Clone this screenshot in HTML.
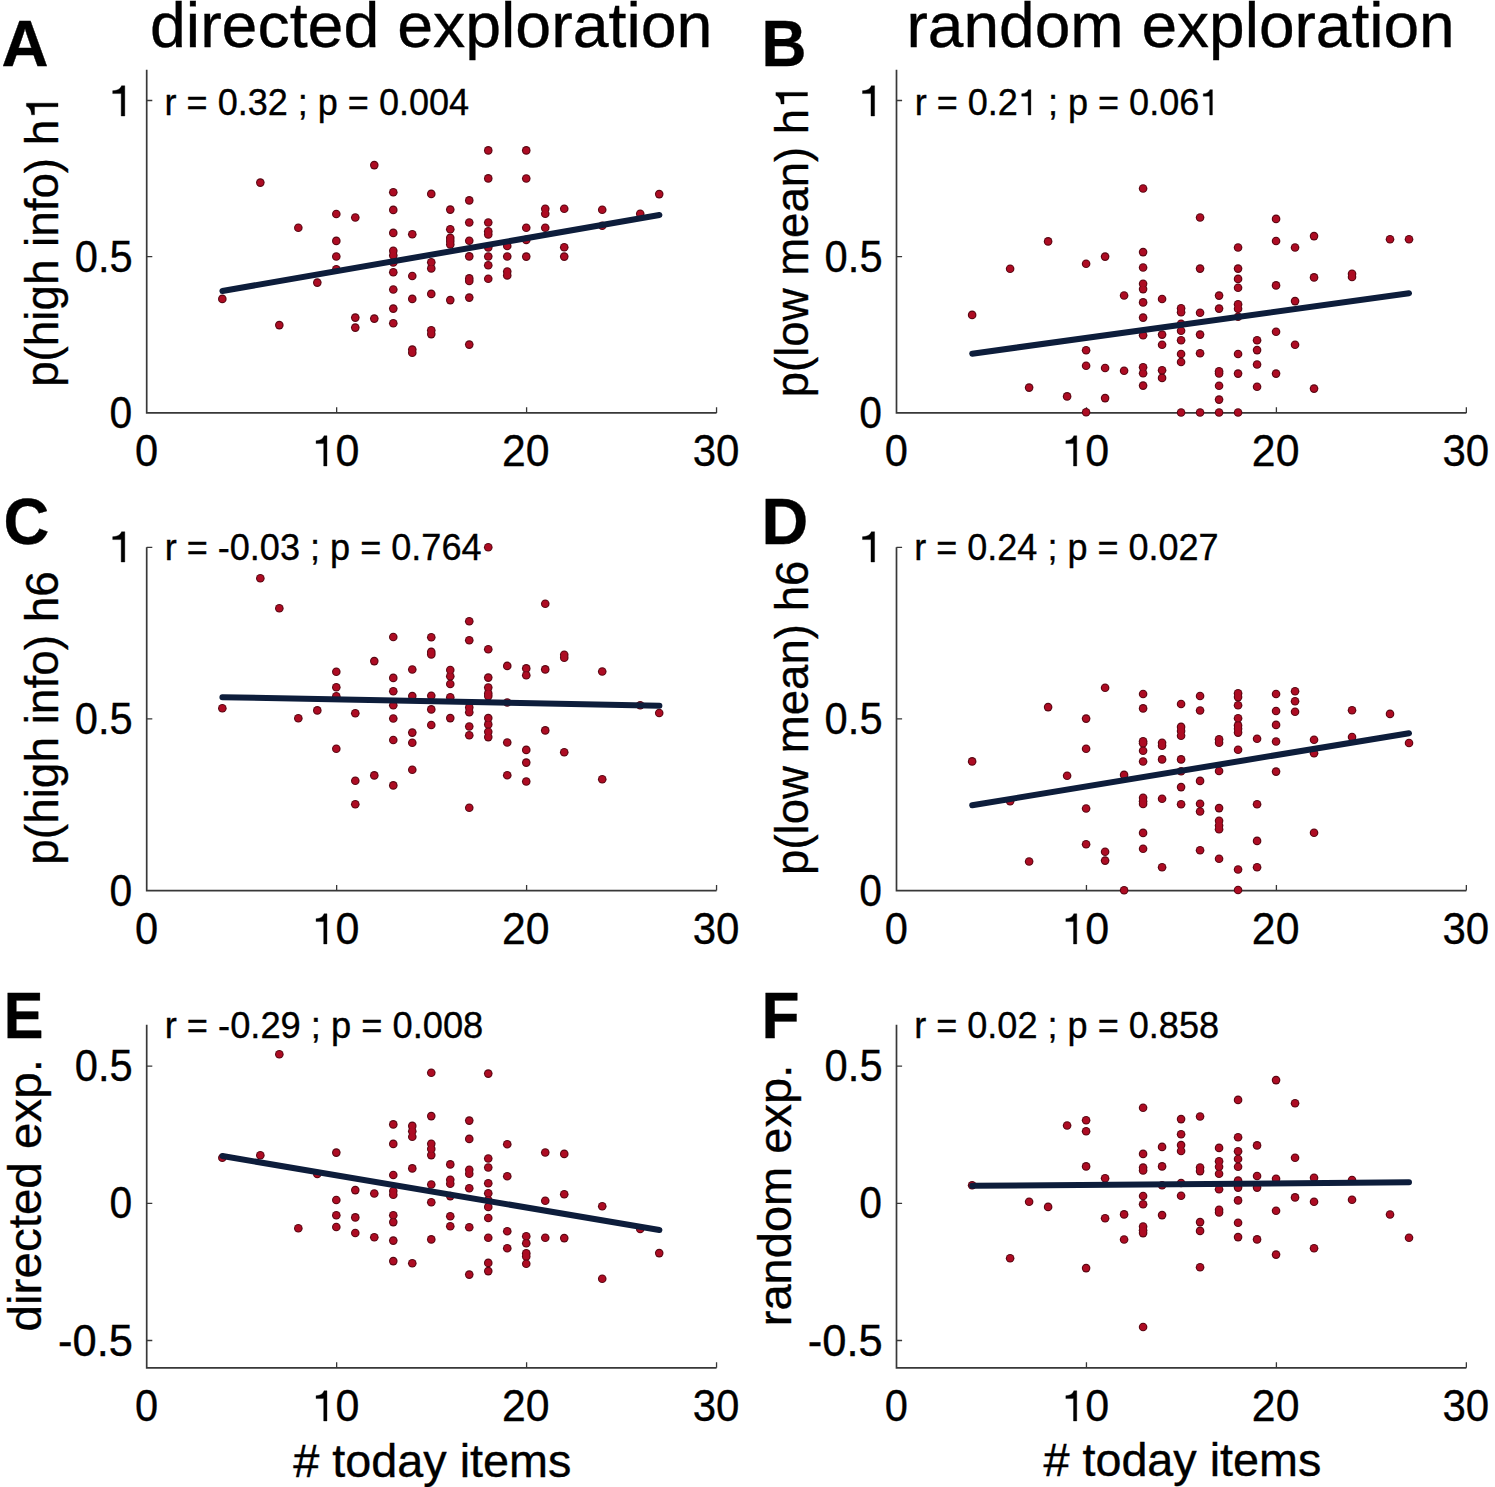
<!DOCTYPE html>
<html><head><meta charset="utf-8"><title>Exploration vs today items</title>
<style>html,body{margin:0;padding:0;background:#fff;}body{width:1495px;height:1487px;overflow:hidden;font-family:"Liberation Sans",sans-serif;}svg{display:block;}</style>
</head><body>
<svg width="1495" height="1487" viewBox="0 0 1495 1487"><rect width="1495" height="1487" fill="#fff"/><g fill="none" stroke="#383838" stroke-width="1.7" stroke-linejoin="miter"><path d="M146.7 69.7V412.9H716.55"/><path d="M146.7 547.3V890.6H716.55"/><path d="M146.7 1024.85V1367.8H716.55"/><path d="M896.5 69.7V412.9H1466.35"/><path d="M896.5 547.3V890.6H1466.35"/><path d="M896.5 1024.85V1367.8H1466.35"/></g><path d="M336.65 412.9v-5.6M526.6 412.9v-5.6M716.55 412.9v-5.6M146.7 256.7h5.6M146.7 100.5h5.6M336.65 890.6v-5.6M526.6 890.6v-5.6M716.55 890.6v-5.6M146.7 718.95h5.6M146.7 547.3h5.6M336.65 1367.8v-5.6M526.6 1367.8v-5.6M716.55 1367.8v-5.6M146.7 1340.5h5.6M146.7 1203.3h5.6M146.7 1066.1h5.6M1086.45 412.9v-5.6M1276.4 412.9v-5.6M1466.35 412.9v-5.6M896.5 256.7h5.6M896.5 100.5h5.6M1086.45 890.6v-5.6M1276.4 890.6v-5.6M1466.35 890.6v-5.6M896.5 718.95h5.6M896.5 547.3h5.6M1086.45 1367.8v-5.6M1276.4 1367.8v-5.6M1466.35 1367.8v-5.6M896.5 1340.5h5.6M896.5 1203.3h5.6M896.5 1066.1h5.6" fill="none" stroke="#383838" stroke-width="1.3"/><g fill="#5a0713"><circle cx="222.33" cy="298.9" r="4.3"/><circle cx="260.32" cy="182.6" r="4.3"/><circle cx="279.31" cy="325.1" r="4.3"/><circle cx="298.31" cy="227.7" r="4.3"/><circle cx="317.3" cy="282.6" r="4.3"/><circle cx="336.3" cy="214" r="4.3"/><circle cx="336.3" cy="240.9" r="4.3"/><circle cx="336.3" cy="256.5" r="4.3"/><circle cx="336.3" cy="269.2" r="4.3"/><circle cx="355.29" cy="217.5" r="4.3"/><circle cx="355.29" cy="317.6" r="4.3"/><circle cx="355.29" cy="327.6" r="4.3"/><circle cx="374.29" cy="165.1" r="4.3"/><circle cx="374.29" cy="318.6" r="4.3"/><circle cx="393.28" cy="192.3" r="4.3"/><circle cx="393.28" cy="209.9" r="4.3"/><circle cx="393.28" cy="232.9" r="4.3"/><circle cx="393.28" cy="250.8" r="4.3"/><circle cx="393.28" cy="255.4" r="4.3"/><circle cx="393.28" cy="262.5" r="4.3"/><circle cx="393.28" cy="272.2" r="4.3"/><circle cx="393.28" cy="289.5" r="4.3"/><circle cx="393.28" cy="308.6" r="4.3"/><circle cx="393.28" cy="323.3" r="4.3"/><circle cx="412.28" cy="234.2" r="4.3"/><circle cx="412.28" cy="276" r="4.3"/><circle cx="412.28" cy="298.9" r="4.3"/><circle cx="412.28" cy="349.6" r="4.3"/><circle cx="412.28" cy="352.7" r="4.3"/><circle cx="431.27" cy="193.9" r="4.3"/><circle cx="431.27" cy="262.3" r="4.3"/><circle cx="431.27" cy="268.4" r="4.3"/><circle cx="431.27" cy="293.9" r="4.3"/><circle cx="431.27" cy="330.2" r="4.3"/><circle cx="431.27" cy="334.1" r="4.3"/><circle cx="450.27" cy="209.6" r="4.3"/><circle cx="450.27" cy="229.3" r="4.3"/><circle cx="450.27" cy="237.9" r="4.3"/><circle cx="450.27" cy="241" r="4.3"/><circle cx="450.27" cy="244.4" r="4.3"/><circle cx="450.27" cy="300.1" r="4.3"/><circle cx="469.26" cy="200.4" r="4.3"/><circle cx="469.26" cy="222.5" r="4.3"/><circle cx="469.26" cy="240.7" r="4.3"/><circle cx="469.26" cy="256.4" r="4.3"/><circle cx="469.26" cy="278.4" r="4.3"/><circle cx="469.26" cy="281" r="4.3"/><circle cx="469.26" cy="297.6" r="4.3"/><circle cx="469.26" cy="344.6" r="4.3"/><circle cx="488.26" cy="150.4" r="4.3"/><circle cx="488.26" cy="178.4" r="4.3"/><circle cx="488.26" cy="222.5" r="4.3"/><circle cx="488.26" cy="231.3" r="4.3"/><circle cx="488.26" cy="234.4" r="4.3"/><circle cx="488.26" cy="247.5" r="4.3"/><circle cx="488.26" cy="256.5" r="4.3"/><circle cx="488.26" cy="265.3" r="4.3"/><circle cx="488.26" cy="278.8" r="4.3"/><circle cx="507.25" cy="246" r="4.3"/><circle cx="507.25" cy="256.5" r="4.3"/><circle cx="507.25" cy="271.5" r="4.3"/><circle cx="507.25" cy="275.4" r="4.3"/><circle cx="526.25" cy="150.4" r="4.3"/><circle cx="526.25" cy="178.5" r="4.3"/><circle cx="526.25" cy="227.7" r="4.3"/><circle cx="526.25" cy="239.9" r="4.3"/><circle cx="526.25" cy="256.6" r="4.3"/><circle cx="545.25" cy="208.7" r="4.3"/><circle cx="545.25" cy="213.8" r="4.3"/><circle cx="545.25" cy="227.7" r="4.3"/><circle cx="564.24" cy="208.7" r="4.3"/><circle cx="564.24" cy="247.3" r="4.3"/><circle cx="564.24" cy="256.6" r="4.3"/><circle cx="602.23" cy="209.8" r="4.3"/><circle cx="602.23" cy="225.7" r="4.3"/><circle cx="640.22" cy="213.8" r="4.3"/><circle cx="659.22" cy="194.1" r="4.3"/><circle cx="972.13" cy="314.9" r="4.3"/><circle cx="1010.12" cy="268.7" r="4.3"/><circle cx="1029.12" cy="387.6" r="4.3"/><circle cx="1048.11" cy="241.4" r="4.3"/><circle cx="1067.11" cy="396.4" r="4.3"/><circle cx="1086.1" cy="263.8" r="4.3"/><circle cx="1086.1" cy="350.2" r="4.3"/><circle cx="1086.1" cy="365.8" r="4.3"/><circle cx="1086.1" cy="412.3" r="4.3"/><circle cx="1105.1" cy="256.6" r="4.3"/><circle cx="1105.1" cy="368" r="4.3"/><circle cx="1105.1" cy="398.1" r="4.3"/><circle cx="1124.09" cy="295.5" r="4.3"/><circle cx="1124.09" cy="370.8" r="4.3"/><circle cx="1143.09" cy="188.5" r="4.3"/><circle cx="1143.09" cy="252.1" r="4.3"/><circle cx="1143.09" cy="267.5" r="4.3"/><circle cx="1143.09" cy="283.8" r="4.3"/><circle cx="1143.09" cy="289.1" r="4.3"/><circle cx="1143.09" cy="302.4" r="4.3"/><circle cx="1143.09" cy="317.6" r="4.3"/><circle cx="1143.09" cy="335.3" r="4.3"/><circle cx="1143.09" cy="367.3" r="4.3"/><circle cx="1143.09" cy="373.3" r="4.3"/><circle cx="1143.09" cy="385.6" r="4.3"/><circle cx="1162.08" cy="299" r="4.3"/><circle cx="1162.08" cy="334.6" r="4.3"/><circle cx="1162.08" cy="344.7" r="4.3"/><circle cx="1162.08" cy="370.2" r="4.3"/><circle cx="1162.08" cy="377.9" r="4.3"/><circle cx="1181.08" cy="308.3" r="4.3"/><circle cx="1181.08" cy="312.2" r="4.3"/><circle cx="1181.08" cy="323.8" r="4.3"/><circle cx="1181.08" cy="330.8" r="4.3"/><circle cx="1181.08" cy="340.3" r="4.3"/><circle cx="1181.08" cy="354" r="4.3"/><circle cx="1181.08" cy="362" r="4.3"/><circle cx="1181.08" cy="412.5" r="4.3"/><circle cx="1200.07" cy="217.5" r="4.3"/><circle cx="1200.07" cy="268.6" r="4.3"/><circle cx="1200.07" cy="312.7" r="4.3"/><circle cx="1200.07" cy="334.6" r="4.3"/><circle cx="1200.07" cy="353.2" r="4.3"/><circle cx="1200.07" cy="412.5" r="4.3"/><circle cx="1219.07" cy="295.6" r="4.3"/><circle cx="1219.07" cy="308.6" r="4.3"/><circle cx="1219.07" cy="371.3" r="4.3"/><circle cx="1219.07" cy="373.5" r="4.3"/><circle cx="1219.07" cy="385.7" r="4.3"/><circle cx="1219.07" cy="399.6" r="4.3"/><circle cx="1219.07" cy="412.5" r="4.3"/><circle cx="1238.06" cy="247.5" r="4.3"/><circle cx="1238.06" cy="268.6" r="4.3"/><circle cx="1238.06" cy="278.9" r="4.3"/><circle cx="1238.06" cy="287.8" r="4.3"/><circle cx="1238.06" cy="304.2" r="4.3"/><circle cx="1238.06" cy="308.8" r="4.3"/><circle cx="1238.06" cy="316.8" r="4.3"/><circle cx="1238.06" cy="354" r="4.3"/><circle cx="1238.06" cy="373.6" r="4.3"/><circle cx="1238.06" cy="412.5" r="4.3"/><circle cx="1257.06" cy="340.3" r="4.3"/><circle cx="1257.06" cy="350.1" r="4.3"/><circle cx="1257.06" cy="364.5" r="4.3"/><circle cx="1257.06" cy="386.8" r="4.3"/><circle cx="1276.05" cy="218.9" r="4.3"/><circle cx="1276.05" cy="241" r="4.3"/><circle cx="1276.05" cy="285.4" r="4.3"/><circle cx="1276.05" cy="331.8" r="4.3"/><circle cx="1276.05" cy="373.6" r="4.3"/><circle cx="1295.05" cy="247.5" r="4.3"/><circle cx="1295.05" cy="301.1" r="4.3"/><circle cx="1295.05" cy="344.7" r="4.3"/><circle cx="1314.04" cy="236.1" r="4.3"/><circle cx="1314.04" cy="277.4" r="4.3"/><circle cx="1314.04" cy="388.6" r="4.3"/><circle cx="1352.03" cy="273.7" r="4.3"/><circle cx="1352.03" cy="277" r="4.3"/><circle cx="1390.02" cy="239.2" r="4.3"/><circle cx="1409.02" cy="239.2" r="4.3"/><circle cx="222.33" cy="708.2" r="4.3"/><circle cx="260.32" cy="578.2" r="4.3"/><circle cx="279.31" cy="608.2" r="4.3"/><circle cx="298.31" cy="718.3" r="4.3"/><circle cx="317.3" cy="710.4" r="4.3"/><circle cx="336.3" cy="671.8" r="4.3"/><circle cx="336.3" cy="687.3" r="4.3"/><circle cx="336.3" cy="696.3" r="4.3"/><circle cx="336.3" cy="748.7" r="4.3"/><circle cx="355.29" cy="713.3" r="4.3"/><circle cx="355.29" cy="780.7" r="4.3"/><circle cx="355.29" cy="804.2" r="4.3"/><circle cx="374.29" cy="661.1" r="4.3"/><circle cx="374.29" cy="775.4" r="4.3"/><circle cx="393.28" cy="637" r="4.3"/><circle cx="393.28" cy="677.9" r="4.3"/><circle cx="393.28" cy="691.2" r="4.3"/><circle cx="393.28" cy="705.3" r="4.3"/><circle cx="393.28" cy="718.5" r="4.3"/><circle cx="393.28" cy="740" r="4.3"/><circle cx="393.28" cy="785.4" r="4.3"/><circle cx="412.28" cy="669.5" r="4.3"/><circle cx="412.28" cy="696.1" r="4.3"/><circle cx="412.28" cy="732.6" r="4.3"/><circle cx="412.28" cy="742.7" r="4.3"/><circle cx="412.28" cy="769.8" r="4.3"/><circle cx="431.27" cy="637.2" r="4.3"/><circle cx="431.27" cy="651.9" r="4.3"/><circle cx="431.27" cy="654.4" r="4.3"/><circle cx="431.27" cy="695.7" r="4.3"/><circle cx="431.27" cy="709.4" r="4.3"/><circle cx="431.27" cy="725" r="4.3"/><circle cx="450.27" cy="670" r="4.3"/><circle cx="450.27" cy="676.2" r="4.3"/><circle cx="450.27" cy="684" r="4.3"/><circle cx="450.27" cy="697.3" r="4.3"/><circle cx="450.27" cy="718.1" r="4.3"/><circle cx="469.26" cy="621.2" r="4.3"/><circle cx="469.26" cy="640.2" r="4.3"/><circle cx="469.26" cy="707.4" r="4.3"/><circle cx="469.26" cy="712.3" r="4.3"/><circle cx="469.26" cy="726.5" r="4.3"/><circle cx="469.26" cy="735.3" r="4.3"/><circle cx="469.26" cy="807.8" r="4.3"/><circle cx="488.26" cy="547.2" r="4.3"/><circle cx="488.26" cy="649.3" r="4.3"/><circle cx="488.26" cy="677.6" r="4.3"/><circle cx="488.26" cy="687.5" r="4.3"/><circle cx="488.26" cy="693.4" r="4.3"/><circle cx="488.26" cy="696.1" r="4.3"/><circle cx="488.26" cy="718.1" r="4.3"/><circle cx="488.26" cy="724.4" r="4.3"/><circle cx="488.26" cy="731.8" r="4.3"/><circle cx="488.26" cy="737.1" r="4.3"/><circle cx="507.25" cy="665.9" r="4.3"/><circle cx="507.25" cy="702.5" r="4.3"/><circle cx="507.25" cy="742.5" r="4.3"/><circle cx="507.25" cy="775.3" r="4.3"/><circle cx="526.25" cy="668.4" r="4.3"/><circle cx="526.25" cy="675.3" r="4.3"/><circle cx="526.25" cy="749.9" r="4.3"/><circle cx="526.25" cy="762.6" r="4.3"/><circle cx="526.25" cy="781.5" r="4.3"/><circle cx="545.25" cy="603.7" r="4.3"/><circle cx="545.25" cy="669.4" r="4.3"/><circle cx="545.25" cy="730.4" r="4.3"/><circle cx="564.24" cy="654.8" r="4.3"/><circle cx="564.24" cy="657.7" r="4.3"/><circle cx="564.24" cy="752.3" r="4.3"/><circle cx="602.23" cy="671.5" r="4.3"/><circle cx="602.23" cy="779.2" r="4.3"/><circle cx="640.22" cy="705.2" r="4.3"/><circle cx="659.22" cy="713" r="4.3"/><circle cx="972.13" cy="761.4" r="4.3"/><circle cx="1010.12" cy="801.2" r="4.3"/><circle cx="1029.12" cy="861.5" r="4.3"/><circle cx="1048.11" cy="707.1" r="4.3"/><circle cx="1067.11" cy="775.7" r="4.3"/><circle cx="1086.1" cy="718.6" r="4.3"/><circle cx="1086.1" cy="748.8" r="4.3"/><circle cx="1086.1" cy="808.5" r="4.3"/><circle cx="1086.1" cy="844.3" r="4.3"/><circle cx="1105.1" cy="687.8" r="4.3"/><circle cx="1105.1" cy="851.8" r="4.3"/><circle cx="1105.1" cy="860.6" r="4.3"/><circle cx="1124.09" cy="774.9" r="4.3"/><circle cx="1124.09" cy="890.2" r="4.3"/><circle cx="1143.09" cy="694" r="4.3"/><circle cx="1143.09" cy="708.4" r="4.3"/><circle cx="1143.09" cy="741.3" r="4.3"/><circle cx="1143.09" cy="743.3" r="4.3"/><circle cx="1143.09" cy="750.8" r="4.3"/><circle cx="1143.09" cy="761.5" r="4.3"/><circle cx="1143.09" cy="797.8" r="4.3"/><circle cx="1143.09" cy="801.2" r="4.3"/><circle cx="1143.09" cy="804" r="4.3"/><circle cx="1143.09" cy="832.9" r="4.3"/><circle cx="1143.09" cy="848.7" r="4.3"/><circle cx="1162.08" cy="742.7" r="4.3"/><circle cx="1162.08" cy="745.8" r="4.3"/><circle cx="1162.08" cy="759.4" r="4.3"/><circle cx="1162.08" cy="798.7" r="4.3"/><circle cx="1162.08" cy="867.2" r="4.3"/><circle cx="1181.08" cy="704" r="4.3"/><circle cx="1181.08" cy="726.9" r="4.3"/><circle cx="1181.08" cy="731.1" r="4.3"/><circle cx="1181.08" cy="735.7" r="4.3"/><circle cx="1181.08" cy="759.4" r="4.3"/><circle cx="1181.08" cy="771.3" r="4.3"/><circle cx="1181.08" cy="787.1" r="4.3"/><circle cx="1181.08" cy="804.3" r="4.3"/><circle cx="1200.07" cy="696" r="4.3"/><circle cx="1200.07" cy="710.5" r="4.3"/><circle cx="1200.07" cy="780.9" r="4.3"/><circle cx="1200.07" cy="803.8" r="4.3"/><circle cx="1200.07" cy="811.5" r="4.3"/><circle cx="1200.07" cy="850.2" r="4.3"/><circle cx="1219.07" cy="739.3" r="4.3"/><circle cx="1219.07" cy="742.7" r="4.3"/><circle cx="1219.07" cy="771" r="4.3"/><circle cx="1219.07" cy="808.1" r="4.3"/><circle cx="1219.07" cy="820.8" r="4.3"/><circle cx="1219.07" cy="825.5" r="4.3"/><circle cx="1219.07" cy="829.3" r="4.3"/><circle cx="1219.07" cy="858.7" r="4.3"/><circle cx="1238.06" cy="693.2" r="4.3"/><circle cx="1238.06" cy="697.1" r="4.3"/><circle cx="1238.06" cy="705.3" r="4.3"/><circle cx="1238.06" cy="718.3" r="4.3"/><circle cx="1238.06" cy="725.4" r="4.3"/><circle cx="1238.06" cy="728.8" r="4.3"/><circle cx="1238.06" cy="732.6" r="4.3"/><circle cx="1238.06" cy="749.7" r="4.3"/><circle cx="1238.06" cy="869.5" r="4.3"/><circle cx="1238.06" cy="890" r="4.3"/><circle cx="1257.06" cy="738.8" r="4.3"/><circle cx="1257.06" cy="804.3" r="4.3"/><circle cx="1257.06" cy="840.9" r="4.3"/><circle cx="1257.06" cy="867.2" r="4.3"/><circle cx="1276.05" cy="694" r="4.3"/><circle cx="1276.05" cy="711" r="4.3"/><circle cx="1276.05" cy="724.9" r="4.3"/><circle cx="1276.05" cy="741.5" r="4.3"/><circle cx="1276.05" cy="771.6" r="4.3"/><circle cx="1295.05" cy="691.3" r="4.3"/><circle cx="1295.05" cy="701.2" r="4.3"/><circle cx="1295.05" cy="711.8" r="4.3"/><circle cx="1314.04" cy="739.7" r="4.3"/><circle cx="1314.04" cy="753.2" r="4.3"/><circle cx="1314.04" cy="832.7" r="4.3"/><circle cx="1352.03" cy="710.3" r="4.3"/><circle cx="1352.03" cy="737" r="4.3"/><circle cx="1390.02" cy="713.9" r="4.3"/><circle cx="1409.02" cy="743" r="4.3"/><circle cx="222.33" cy="1157.7" r="4.3"/><circle cx="260.32" cy="1155.2" r="4.3"/><circle cx="279.31" cy="1054.3" r="4.3"/><circle cx="298.31" cy="1228.3" r="4.3"/><circle cx="317.3" cy="1174" r="4.3"/><circle cx="336.3" cy="1152.6" r="4.3"/><circle cx="336.3" cy="1200" r="4.3"/><circle cx="336.3" cy="1215.2" r="4.3"/><circle cx="336.3" cy="1227" r="4.3"/><circle cx="355.29" cy="1190.1" r="4.3"/><circle cx="355.29" cy="1217.4" r="4.3"/><circle cx="355.29" cy="1233" r="4.3"/><circle cx="374.29" cy="1193.5" r="4.3"/><circle cx="374.29" cy="1237.2" r="4.3"/><circle cx="393.28" cy="1124.4" r="4.3"/><circle cx="393.28" cy="1143.9" r="4.3"/><circle cx="393.28" cy="1175" r="4.3"/><circle cx="393.28" cy="1191" r="4.3"/><circle cx="393.28" cy="1194.7" r="4.3"/><circle cx="393.28" cy="1215.2" r="4.3"/><circle cx="393.28" cy="1222.1" r="4.3"/><circle cx="393.28" cy="1240.6" r="4.3"/><circle cx="393.28" cy="1261.1" r="4.3"/><circle cx="412.28" cy="1125.9" r="4.3"/><circle cx="412.28" cy="1131.3" r="4.3"/><circle cx="412.28" cy="1136.8" r="4.3"/><circle cx="412.28" cy="1168.4" r="4.3"/><circle cx="412.28" cy="1263.3" r="4.3"/><circle cx="431.27" cy="1072.7" r="4.3"/><circle cx="431.27" cy="1116.1" r="4.3"/><circle cx="431.27" cy="1143.8" r="4.3"/><circle cx="431.27" cy="1148.9" r="4.3"/><circle cx="431.27" cy="1155.1" r="4.3"/><circle cx="431.27" cy="1184.5" r="4.3"/><circle cx="431.27" cy="1202.3" r="4.3"/><circle cx="431.27" cy="1239.4" r="4.3"/><circle cx="450.27" cy="1164.4" r="4.3"/><circle cx="450.27" cy="1179.8" r="4.3"/><circle cx="450.27" cy="1183.7" r="4.3"/><circle cx="450.27" cy="1196.1" r="4.3"/><circle cx="450.27" cy="1216.2" r="4.3"/><circle cx="450.27" cy="1226.2" r="4.3"/><circle cx="469.26" cy="1120.6" r="4.3"/><circle cx="469.26" cy="1138.9" r="4.3"/><circle cx="469.26" cy="1169.8" r="4.3"/><circle cx="469.26" cy="1173.7" r="4.3"/><circle cx="469.26" cy="1188.3" r="4.3"/><circle cx="469.26" cy="1227.3" r="4.3"/><circle cx="469.26" cy="1274.6" r="4.3"/><circle cx="488.26" cy="1073.6" r="4.3"/><circle cx="488.26" cy="1158.5" r="4.3"/><circle cx="488.26" cy="1167.5" r="4.3"/><circle cx="488.26" cy="1183.2" r="4.3"/><circle cx="488.26" cy="1193.3" r="4.3"/><circle cx="488.26" cy="1200" r="4.3"/><circle cx="488.26" cy="1206.9" r="4.3"/><circle cx="488.26" cy="1218" r="4.3"/><circle cx="488.26" cy="1237.8" r="4.3"/><circle cx="488.26" cy="1262.9" r="4.3"/><circle cx="488.26" cy="1271.1" r="4.3"/><circle cx="507.25" cy="1144.3" r="4.3"/><circle cx="507.25" cy="1176.3" r="4.3"/><circle cx="507.25" cy="1231.3" r="4.3"/><circle cx="507.25" cy="1248.3" r="4.3"/><circle cx="526.25" cy="1236.3" r="4.3"/><circle cx="526.25" cy="1243.2" r="4.3"/><circle cx="526.25" cy="1253.3" r="4.3"/><circle cx="526.25" cy="1256.4" r="4.3"/><circle cx="526.25" cy="1263.8" r="4.3"/><circle cx="545.25" cy="1152.5" r="4.3"/><circle cx="545.25" cy="1200.7" r="4.3"/><circle cx="545.25" cy="1237.8" r="4.3"/><circle cx="564.24" cy="1153.9" r="4.3"/><circle cx="564.24" cy="1194.2" r="4.3"/><circle cx="564.24" cy="1238.1" r="4.3"/><circle cx="602.23" cy="1206.2" r="4.3"/><circle cx="602.23" cy="1278.8" r="4.3"/><circle cx="640.22" cy="1229" r="4.3"/><circle cx="659.22" cy="1253.1" r="4.3"/><circle cx="972.13" cy="1185.2" r="4.3"/><circle cx="1010.12" cy="1258.3" r="4.3"/><circle cx="1029.12" cy="1201.8" r="4.3"/><circle cx="1048.11" cy="1206.9" r="4.3"/><circle cx="1067.11" cy="1125.5" r="4.3"/><circle cx="1086.1" cy="1120.3" r="4.3"/><circle cx="1086.1" cy="1131.2" r="4.3"/><circle cx="1086.1" cy="1166.4" r="4.3"/><circle cx="1086.1" cy="1268.1" r="4.3"/><circle cx="1105.1" cy="1178.3" r="4.3"/><circle cx="1105.1" cy="1218.2" r="4.3"/><circle cx="1124.09" cy="1214.4" r="4.3"/><circle cx="1124.09" cy="1239.5" r="4.3"/><circle cx="1143.09" cy="1107.8" r="4.3"/><circle cx="1143.09" cy="1153.9" r="4.3"/><circle cx="1143.09" cy="1167.6" r="4.3"/><circle cx="1143.09" cy="1170.4" r="4.3"/><circle cx="1143.09" cy="1196" r="4.3"/><circle cx="1143.09" cy="1204.3" r="4.3"/><circle cx="1143.09" cy="1226.5" r="4.3"/><circle cx="1143.09" cy="1230.2" r="4.3"/><circle cx="1143.09" cy="1233.1" r="4.3"/><circle cx="1143.09" cy="1327" r="4.3"/><circle cx="1162.08" cy="1146.9" r="4.3"/><circle cx="1162.08" cy="1166.4" r="4.3"/><circle cx="1162.08" cy="1185.3" r="4.3"/><circle cx="1162.08" cy="1215.1" r="4.3"/><circle cx="1181.08" cy="1119.1" r="4.3"/><circle cx="1181.08" cy="1134.2" r="4.3"/><circle cx="1181.08" cy="1145.1" r="4.3"/><circle cx="1181.08" cy="1151" r="4.3"/><circle cx="1181.08" cy="1183" r="4.3"/><circle cx="1181.08" cy="1195.8" r="4.3"/><circle cx="1200.07" cy="1116.5" r="4.3"/><circle cx="1200.07" cy="1167.5" r="4.3"/><circle cx="1200.07" cy="1171.1" r="4.3"/><circle cx="1200.07" cy="1222.1" r="4.3"/><circle cx="1200.07" cy="1230.9" r="4.3"/><circle cx="1200.07" cy="1267.3" r="4.3"/><circle cx="1219.07" cy="1147.9" r="4.3"/><circle cx="1219.07" cy="1161.3" r="4.3"/><circle cx="1219.07" cy="1166.7" r="4.3"/><circle cx="1219.07" cy="1173.7" r="4.3"/><circle cx="1219.07" cy="1189.2" r="4.3"/><circle cx="1219.07" cy="1209.7" r="4.3"/><circle cx="1219.07" cy="1212.4" r="4.3"/><circle cx="1238.06" cy="1099.9" r="4.3"/><circle cx="1238.06" cy="1137.3" r="4.3"/><circle cx="1238.06" cy="1151.3" r="4.3"/><circle cx="1238.06" cy="1159" r="4.3"/><circle cx="1238.06" cy="1166.7" r="4.3"/><circle cx="1238.06" cy="1180.6" r="4.3"/><circle cx="1238.06" cy="1187.6" r="4.3"/><circle cx="1238.06" cy="1200.4" r="4.3"/><circle cx="1238.06" cy="1222.7" r="4.3"/><circle cx="1238.06" cy="1237.1" r="4.3"/><circle cx="1257.06" cy="1145.4" r="4.3"/><circle cx="1257.06" cy="1176" r="4.3"/><circle cx="1257.06" cy="1187.6" r="4.3"/><circle cx="1257.06" cy="1239.4" r="4.3"/><circle cx="1276.05" cy="1080.1" r="4.3"/><circle cx="1276.05" cy="1178.8" r="4.3"/><circle cx="1276.05" cy="1210.8" r="4.3"/><circle cx="1276.05" cy="1254.6" r="4.3"/><circle cx="1295.05" cy="1103.3" r="4.3"/><circle cx="1295.05" cy="1157.8" r="4.3"/><circle cx="1295.05" cy="1197.4" r="4.3"/><circle cx="1314.04" cy="1177.8" r="4.3"/><circle cx="1314.04" cy="1201.7" r="4.3"/><circle cx="1314.04" cy="1248.3" r="4.3"/><circle cx="1352.03" cy="1180" r="4.3"/><circle cx="1352.03" cy="1199.7" r="4.3"/><circle cx="1390.02" cy="1214.5" r="4.3"/><circle cx="1409.02" cy="1237.7" r="4.3"/></g><g fill="#ad0c23"><circle cx="222.33" cy="298.9" r="3.2"/><circle cx="260.32" cy="182.6" r="3.2"/><circle cx="279.31" cy="325.1" r="3.2"/><circle cx="298.31" cy="227.7" r="3.2"/><circle cx="317.3" cy="282.6" r="3.2"/><circle cx="336.3" cy="214" r="3.2"/><circle cx="336.3" cy="240.9" r="3.2"/><circle cx="336.3" cy="256.5" r="3.2"/><circle cx="336.3" cy="269.2" r="3.2"/><circle cx="355.29" cy="217.5" r="3.2"/><circle cx="355.29" cy="317.6" r="3.2"/><circle cx="355.29" cy="327.6" r="3.2"/><circle cx="374.29" cy="165.1" r="3.2"/><circle cx="374.29" cy="318.6" r="3.2"/><circle cx="393.28" cy="192.3" r="3.2"/><circle cx="393.28" cy="209.9" r="3.2"/><circle cx="393.28" cy="232.9" r="3.2"/><circle cx="393.28" cy="250.8" r="3.2"/><circle cx="393.28" cy="255.4" r="3.2"/><circle cx="393.28" cy="262.5" r="3.2"/><circle cx="393.28" cy="272.2" r="3.2"/><circle cx="393.28" cy="289.5" r="3.2"/><circle cx="393.28" cy="308.6" r="3.2"/><circle cx="393.28" cy="323.3" r="3.2"/><circle cx="412.28" cy="234.2" r="3.2"/><circle cx="412.28" cy="276" r="3.2"/><circle cx="412.28" cy="298.9" r="3.2"/><circle cx="412.28" cy="349.6" r="3.2"/><circle cx="412.28" cy="352.7" r="3.2"/><circle cx="431.27" cy="193.9" r="3.2"/><circle cx="431.27" cy="262.3" r="3.2"/><circle cx="431.27" cy="268.4" r="3.2"/><circle cx="431.27" cy="293.9" r="3.2"/><circle cx="431.27" cy="330.2" r="3.2"/><circle cx="431.27" cy="334.1" r="3.2"/><circle cx="450.27" cy="209.6" r="3.2"/><circle cx="450.27" cy="229.3" r="3.2"/><circle cx="450.27" cy="237.9" r="3.2"/><circle cx="450.27" cy="241" r="3.2"/><circle cx="450.27" cy="244.4" r="3.2"/><circle cx="450.27" cy="300.1" r="3.2"/><circle cx="469.26" cy="200.4" r="3.2"/><circle cx="469.26" cy="222.5" r="3.2"/><circle cx="469.26" cy="240.7" r="3.2"/><circle cx="469.26" cy="256.4" r="3.2"/><circle cx="469.26" cy="278.4" r="3.2"/><circle cx="469.26" cy="281" r="3.2"/><circle cx="469.26" cy="297.6" r="3.2"/><circle cx="469.26" cy="344.6" r="3.2"/><circle cx="488.26" cy="150.4" r="3.2"/><circle cx="488.26" cy="178.4" r="3.2"/><circle cx="488.26" cy="222.5" r="3.2"/><circle cx="488.26" cy="231.3" r="3.2"/><circle cx="488.26" cy="234.4" r="3.2"/><circle cx="488.26" cy="247.5" r="3.2"/><circle cx="488.26" cy="256.5" r="3.2"/><circle cx="488.26" cy="265.3" r="3.2"/><circle cx="488.26" cy="278.8" r="3.2"/><circle cx="507.25" cy="246" r="3.2"/><circle cx="507.25" cy="256.5" r="3.2"/><circle cx="507.25" cy="271.5" r="3.2"/><circle cx="507.25" cy="275.4" r="3.2"/><circle cx="526.25" cy="150.4" r="3.2"/><circle cx="526.25" cy="178.5" r="3.2"/><circle cx="526.25" cy="227.7" r="3.2"/><circle cx="526.25" cy="239.9" r="3.2"/><circle cx="526.25" cy="256.6" r="3.2"/><circle cx="545.25" cy="208.7" r="3.2"/><circle cx="545.25" cy="213.8" r="3.2"/><circle cx="545.25" cy="227.7" r="3.2"/><circle cx="564.24" cy="208.7" r="3.2"/><circle cx="564.24" cy="247.3" r="3.2"/><circle cx="564.24" cy="256.6" r="3.2"/><circle cx="602.23" cy="209.8" r="3.2"/><circle cx="602.23" cy="225.7" r="3.2"/><circle cx="640.22" cy="213.8" r="3.2"/><circle cx="659.22" cy="194.1" r="3.2"/><circle cx="972.13" cy="314.9" r="3.2"/><circle cx="1010.12" cy="268.7" r="3.2"/><circle cx="1029.12" cy="387.6" r="3.2"/><circle cx="1048.11" cy="241.4" r="3.2"/><circle cx="1067.11" cy="396.4" r="3.2"/><circle cx="1086.1" cy="263.8" r="3.2"/><circle cx="1086.1" cy="350.2" r="3.2"/><circle cx="1086.1" cy="365.8" r="3.2"/><circle cx="1086.1" cy="412.3" r="3.2"/><circle cx="1105.1" cy="256.6" r="3.2"/><circle cx="1105.1" cy="368" r="3.2"/><circle cx="1105.1" cy="398.1" r="3.2"/><circle cx="1124.09" cy="295.5" r="3.2"/><circle cx="1124.09" cy="370.8" r="3.2"/><circle cx="1143.09" cy="188.5" r="3.2"/><circle cx="1143.09" cy="252.1" r="3.2"/><circle cx="1143.09" cy="267.5" r="3.2"/><circle cx="1143.09" cy="283.8" r="3.2"/><circle cx="1143.09" cy="289.1" r="3.2"/><circle cx="1143.09" cy="302.4" r="3.2"/><circle cx="1143.09" cy="317.6" r="3.2"/><circle cx="1143.09" cy="335.3" r="3.2"/><circle cx="1143.09" cy="367.3" r="3.2"/><circle cx="1143.09" cy="373.3" r="3.2"/><circle cx="1143.09" cy="385.6" r="3.2"/><circle cx="1162.08" cy="299" r="3.2"/><circle cx="1162.08" cy="334.6" r="3.2"/><circle cx="1162.08" cy="344.7" r="3.2"/><circle cx="1162.08" cy="370.2" r="3.2"/><circle cx="1162.08" cy="377.9" r="3.2"/><circle cx="1181.08" cy="308.3" r="3.2"/><circle cx="1181.08" cy="312.2" r="3.2"/><circle cx="1181.08" cy="323.8" r="3.2"/><circle cx="1181.08" cy="330.8" r="3.2"/><circle cx="1181.08" cy="340.3" r="3.2"/><circle cx="1181.08" cy="354" r="3.2"/><circle cx="1181.08" cy="362" r="3.2"/><circle cx="1181.08" cy="412.5" r="3.2"/><circle cx="1200.07" cy="217.5" r="3.2"/><circle cx="1200.07" cy="268.6" r="3.2"/><circle cx="1200.07" cy="312.7" r="3.2"/><circle cx="1200.07" cy="334.6" r="3.2"/><circle cx="1200.07" cy="353.2" r="3.2"/><circle cx="1200.07" cy="412.5" r="3.2"/><circle cx="1219.07" cy="295.6" r="3.2"/><circle cx="1219.07" cy="308.6" r="3.2"/><circle cx="1219.07" cy="371.3" r="3.2"/><circle cx="1219.07" cy="373.5" r="3.2"/><circle cx="1219.07" cy="385.7" r="3.2"/><circle cx="1219.07" cy="399.6" r="3.2"/><circle cx="1219.07" cy="412.5" r="3.2"/><circle cx="1238.06" cy="247.5" r="3.2"/><circle cx="1238.06" cy="268.6" r="3.2"/><circle cx="1238.06" cy="278.9" r="3.2"/><circle cx="1238.06" cy="287.8" r="3.2"/><circle cx="1238.06" cy="304.2" r="3.2"/><circle cx="1238.06" cy="308.8" r="3.2"/><circle cx="1238.06" cy="316.8" r="3.2"/><circle cx="1238.06" cy="354" r="3.2"/><circle cx="1238.06" cy="373.6" r="3.2"/><circle cx="1238.06" cy="412.5" r="3.2"/><circle cx="1257.06" cy="340.3" r="3.2"/><circle cx="1257.06" cy="350.1" r="3.2"/><circle cx="1257.06" cy="364.5" r="3.2"/><circle cx="1257.06" cy="386.8" r="3.2"/><circle cx="1276.05" cy="218.9" r="3.2"/><circle cx="1276.05" cy="241" r="3.2"/><circle cx="1276.05" cy="285.4" r="3.2"/><circle cx="1276.05" cy="331.8" r="3.2"/><circle cx="1276.05" cy="373.6" r="3.2"/><circle cx="1295.05" cy="247.5" r="3.2"/><circle cx="1295.05" cy="301.1" r="3.2"/><circle cx="1295.05" cy="344.7" r="3.2"/><circle cx="1314.04" cy="236.1" r="3.2"/><circle cx="1314.04" cy="277.4" r="3.2"/><circle cx="1314.04" cy="388.6" r="3.2"/><circle cx="1352.03" cy="273.7" r="3.2"/><circle cx="1352.03" cy="277" r="3.2"/><circle cx="1390.02" cy="239.2" r="3.2"/><circle cx="1409.02" cy="239.2" r="3.2"/><circle cx="222.33" cy="708.2" r="3.2"/><circle cx="260.32" cy="578.2" r="3.2"/><circle cx="279.31" cy="608.2" r="3.2"/><circle cx="298.31" cy="718.3" r="3.2"/><circle cx="317.3" cy="710.4" r="3.2"/><circle cx="336.3" cy="671.8" r="3.2"/><circle cx="336.3" cy="687.3" r="3.2"/><circle cx="336.3" cy="696.3" r="3.2"/><circle cx="336.3" cy="748.7" r="3.2"/><circle cx="355.29" cy="713.3" r="3.2"/><circle cx="355.29" cy="780.7" r="3.2"/><circle cx="355.29" cy="804.2" r="3.2"/><circle cx="374.29" cy="661.1" r="3.2"/><circle cx="374.29" cy="775.4" r="3.2"/><circle cx="393.28" cy="637" r="3.2"/><circle cx="393.28" cy="677.9" r="3.2"/><circle cx="393.28" cy="691.2" r="3.2"/><circle cx="393.28" cy="705.3" r="3.2"/><circle cx="393.28" cy="718.5" r="3.2"/><circle cx="393.28" cy="740" r="3.2"/><circle cx="393.28" cy="785.4" r="3.2"/><circle cx="412.28" cy="669.5" r="3.2"/><circle cx="412.28" cy="696.1" r="3.2"/><circle cx="412.28" cy="732.6" r="3.2"/><circle cx="412.28" cy="742.7" r="3.2"/><circle cx="412.28" cy="769.8" r="3.2"/><circle cx="431.27" cy="637.2" r="3.2"/><circle cx="431.27" cy="651.9" r="3.2"/><circle cx="431.27" cy="654.4" r="3.2"/><circle cx="431.27" cy="695.7" r="3.2"/><circle cx="431.27" cy="709.4" r="3.2"/><circle cx="431.27" cy="725" r="3.2"/><circle cx="450.27" cy="670" r="3.2"/><circle cx="450.27" cy="676.2" r="3.2"/><circle cx="450.27" cy="684" r="3.2"/><circle cx="450.27" cy="697.3" r="3.2"/><circle cx="450.27" cy="718.1" r="3.2"/><circle cx="469.26" cy="621.2" r="3.2"/><circle cx="469.26" cy="640.2" r="3.2"/><circle cx="469.26" cy="707.4" r="3.2"/><circle cx="469.26" cy="712.3" r="3.2"/><circle cx="469.26" cy="726.5" r="3.2"/><circle cx="469.26" cy="735.3" r="3.2"/><circle cx="469.26" cy="807.8" r="3.2"/><circle cx="488.26" cy="547.2" r="3.2"/><circle cx="488.26" cy="649.3" r="3.2"/><circle cx="488.26" cy="677.6" r="3.2"/><circle cx="488.26" cy="687.5" r="3.2"/><circle cx="488.26" cy="693.4" r="3.2"/><circle cx="488.26" cy="696.1" r="3.2"/><circle cx="488.26" cy="718.1" r="3.2"/><circle cx="488.26" cy="724.4" r="3.2"/><circle cx="488.26" cy="731.8" r="3.2"/><circle cx="488.26" cy="737.1" r="3.2"/><circle cx="507.25" cy="665.9" r="3.2"/><circle cx="507.25" cy="702.5" r="3.2"/><circle cx="507.25" cy="742.5" r="3.2"/><circle cx="507.25" cy="775.3" r="3.2"/><circle cx="526.25" cy="668.4" r="3.2"/><circle cx="526.25" cy="675.3" r="3.2"/><circle cx="526.25" cy="749.9" r="3.2"/><circle cx="526.25" cy="762.6" r="3.2"/><circle cx="526.25" cy="781.5" r="3.2"/><circle cx="545.25" cy="603.7" r="3.2"/><circle cx="545.25" cy="669.4" r="3.2"/><circle cx="545.25" cy="730.4" r="3.2"/><circle cx="564.24" cy="654.8" r="3.2"/><circle cx="564.24" cy="657.7" r="3.2"/><circle cx="564.24" cy="752.3" r="3.2"/><circle cx="602.23" cy="671.5" r="3.2"/><circle cx="602.23" cy="779.2" r="3.2"/><circle cx="640.22" cy="705.2" r="3.2"/><circle cx="659.22" cy="713" r="3.2"/><circle cx="972.13" cy="761.4" r="3.2"/><circle cx="1010.12" cy="801.2" r="3.2"/><circle cx="1029.12" cy="861.5" r="3.2"/><circle cx="1048.11" cy="707.1" r="3.2"/><circle cx="1067.11" cy="775.7" r="3.2"/><circle cx="1086.1" cy="718.6" r="3.2"/><circle cx="1086.1" cy="748.8" r="3.2"/><circle cx="1086.1" cy="808.5" r="3.2"/><circle cx="1086.1" cy="844.3" r="3.2"/><circle cx="1105.1" cy="687.8" r="3.2"/><circle cx="1105.1" cy="851.8" r="3.2"/><circle cx="1105.1" cy="860.6" r="3.2"/><circle cx="1124.09" cy="774.9" r="3.2"/><circle cx="1124.09" cy="890.2" r="3.2"/><circle cx="1143.09" cy="694" r="3.2"/><circle cx="1143.09" cy="708.4" r="3.2"/><circle cx="1143.09" cy="741.3" r="3.2"/><circle cx="1143.09" cy="743.3" r="3.2"/><circle cx="1143.09" cy="750.8" r="3.2"/><circle cx="1143.09" cy="761.5" r="3.2"/><circle cx="1143.09" cy="797.8" r="3.2"/><circle cx="1143.09" cy="801.2" r="3.2"/><circle cx="1143.09" cy="804" r="3.2"/><circle cx="1143.09" cy="832.9" r="3.2"/><circle cx="1143.09" cy="848.7" r="3.2"/><circle cx="1162.08" cy="742.7" r="3.2"/><circle cx="1162.08" cy="745.8" r="3.2"/><circle cx="1162.08" cy="759.4" r="3.2"/><circle cx="1162.08" cy="798.7" r="3.2"/><circle cx="1162.08" cy="867.2" r="3.2"/><circle cx="1181.08" cy="704" r="3.2"/><circle cx="1181.08" cy="726.9" r="3.2"/><circle cx="1181.08" cy="731.1" r="3.2"/><circle cx="1181.08" cy="735.7" r="3.2"/><circle cx="1181.08" cy="759.4" r="3.2"/><circle cx="1181.08" cy="771.3" r="3.2"/><circle cx="1181.08" cy="787.1" r="3.2"/><circle cx="1181.08" cy="804.3" r="3.2"/><circle cx="1200.07" cy="696" r="3.2"/><circle cx="1200.07" cy="710.5" r="3.2"/><circle cx="1200.07" cy="780.9" r="3.2"/><circle cx="1200.07" cy="803.8" r="3.2"/><circle cx="1200.07" cy="811.5" r="3.2"/><circle cx="1200.07" cy="850.2" r="3.2"/><circle cx="1219.07" cy="739.3" r="3.2"/><circle cx="1219.07" cy="742.7" r="3.2"/><circle cx="1219.07" cy="771" r="3.2"/><circle cx="1219.07" cy="808.1" r="3.2"/><circle cx="1219.07" cy="820.8" r="3.2"/><circle cx="1219.07" cy="825.5" r="3.2"/><circle cx="1219.07" cy="829.3" r="3.2"/><circle cx="1219.07" cy="858.7" r="3.2"/><circle cx="1238.06" cy="693.2" r="3.2"/><circle cx="1238.06" cy="697.1" r="3.2"/><circle cx="1238.06" cy="705.3" r="3.2"/><circle cx="1238.06" cy="718.3" r="3.2"/><circle cx="1238.06" cy="725.4" r="3.2"/><circle cx="1238.06" cy="728.8" r="3.2"/><circle cx="1238.06" cy="732.6" r="3.2"/><circle cx="1238.06" cy="749.7" r="3.2"/><circle cx="1238.06" cy="869.5" r="3.2"/><circle cx="1238.06" cy="890" r="3.2"/><circle cx="1257.06" cy="738.8" r="3.2"/><circle cx="1257.06" cy="804.3" r="3.2"/><circle cx="1257.06" cy="840.9" r="3.2"/><circle cx="1257.06" cy="867.2" r="3.2"/><circle cx="1276.05" cy="694" r="3.2"/><circle cx="1276.05" cy="711" r="3.2"/><circle cx="1276.05" cy="724.9" r="3.2"/><circle cx="1276.05" cy="741.5" r="3.2"/><circle cx="1276.05" cy="771.6" r="3.2"/><circle cx="1295.05" cy="691.3" r="3.2"/><circle cx="1295.05" cy="701.2" r="3.2"/><circle cx="1295.05" cy="711.8" r="3.2"/><circle cx="1314.04" cy="739.7" r="3.2"/><circle cx="1314.04" cy="753.2" r="3.2"/><circle cx="1314.04" cy="832.7" r="3.2"/><circle cx="1352.03" cy="710.3" r="3.2"/><circle cx="1352.03" cy="737" r="3.2"/><circle cx="1390.02" cy="713.9" r="3.2"/><circle cx="1409.02" cy="743" r="3.2"/><circle cx="222.33" cy="1157.7" r="3.2"/><circle cx="260.32" cy="1155.2" r="3.2"/><circle cx="279.31" cy="1054.3" r="3.2"/><circle cx="298.31" cy="1228.3" r="3.2"/><circle cx="317.3" cy="1174" r="3.2"/><circle cx="336.3" cy="1152.6" r="3.2"/><circle cx="336.3" cy="1200" r="3.2"/><circle cx="336.3" cy="1215.2" r="3.2"/><circle cx="336.3" cy="1227" r="3.2"/><circle cx="355.29" cy="1190.1" r="3.2"/><circle cx="355.29" cy="1217.4" r="3.2"/><circle cx="355.29" cy="1233" r="3.2"/><circle cx="374.29" cy="1193.5" r="3.2"/><circle cx="374.29" cy="1237.2" r="3.2"/><circle cx="393.28" cy="1124.4" r="3.2"/><circle cx="393.28" cy="1143.9" r="3.2"/><circle cx="393.28" cy="1175" r="3.2"/><circle cx="393.28" cy="1191" r="3.2"/><circle cx="393.28" cy="1194.7" r="3.2"/><circle cx="393.28" cy="1215.2" r="3.2"/><circle cx="393.28" cy="1222.1" r="3.2"/><circle cx="393.28" cy="1240.6" r="3.2"/><circle cx="393.28" cy="1261.1" r="3.2"/><circle cx="412.28" cy="1125.9" r="3.2"/><circle cx="412.28" cy="1131.3" r="3.2"/><circle cx="412.28" cy="1136.8" r="3.2"/><circle cx="412.28" cy="1168.4" r="3.2"/><circle cx="412.28" cy="1263.3" r="3.2"/><circle cx="431.27" cy="1072.7" r="3.2"/><circle cx="431.27" cy="1116.1" r="3.2"/><circle cx="431.27" cy="1143.8" r="3.2"/><circle cx="431.27" cy="1148.9" r="3.2"/><circle cx="431.27" cy="1155.1" r="3.2"/><circle cx="431.27" cy="1184.5" r="3.2"/><circle cx="431.27" cy="1202.3" r="3.2"/><circle cx="431.27" cy="1239.4" r="3.2"/><circle cx="450.27" cy="1164.4" r="3.2"/><circle cx="450.27" cy="1179.8" r="3.2"/><circle cx="450.27" cy="1183.7" r="3.2"/><circle cx="450.27" cy="1196.1" r="3.2"/><circle cx="450.27" cy="1216.2" r="3.2"/><circle cx="450.27" cy="1226.2" r="3.2"/><circle cx="469.26" cy="1120.6" r="3.2"/><circle cx="469.26" cy="1138.9" r="3.2"/><circle cx="469.26" cy="1169.8" r="3.2"/><circle cx="469.26" cy="1173.7" r="3.2"/><circle cx="469.26" cy="1188.3" r="3.2"/><circle cx="469.26" cy="1227.3" r="3.2"/><circle cx="469.26" cy="1274.6" r="3.2"/><circle cx="488.26" cy="1073.6" r="3.2"/><circle cx="488.26" cy="1158.5" r="3.2"/><circle cx="488.26" cy="1167.5" r="3.2"/><circle cx="488.26" cy="1183.2" r="3.2"/><circle cx="488.26" cy="1193.3" r="3.2"/><circle cx="488.26" cy="1200" r="3.2"/><circle cx="488.26" cy="1206.9" r="3.2"/><circle cx="488.26" cy="1218" r="3.2"/><circle cx="488.26" cy="1237.8" r="3.2"/><circle cx="488.26" cy="1262.9" r="3.2"/><circle cx="488.26" cy="1271.1" r="3.2"/><circle cx="507.25" cy="1144.3" r="3.2"/><circle cx="507.25" cy="1176.3" r="3.2"/><circle cx="507.25" cy="1231.3" r="3.2"/><circle cx="507.25" cy="1248.3" r="3.2"/><circle cx="526.25" cy="1236.3" r="3.2"/><circle cx="526.25" cy="1243.2" r="3.2"/><circle cx="526.25" cy="1253.3" r="3.2"/><circle cx="526.25" cy="1256.4" r="3.2"/><circle cx="526.25" cy="1263.8" r="3.2"/><circle cx="545.25" cy="1152.5" r="3.2"/><circle cx="545.25" cy="1200.7" r="3.2"/><circle cx="545.25" cy="1237.8" r="3.2"/><circle cx="564.24" cy="1153.9" r="3.2"/><circle cx="564.24" cy="1194.2" r="3.2"/><circle cx="564.24" cy="1238.1" r="3.2"/><circle cx="602.23" cy="1206.2" r="3.2"/><circle cx="602.23" cy="1278.8" r="3.2"/><circle cx="640.22" cy="1229" r="3.2"/><circle cx="659.22" cy="1253.1" r="3.2"/><circle cx="972.13" cy="1185.2" r="3.2"/><circle cx="1010.12" cy="1258.3" r="3.2"/><circle cx="1029.12" cy="1201.8" r="3.2"/><circle cx="1048.11" cy="1206.9" r="3.2"/><circle cx="1067.11" cy="1125.5" r="3.2"/><circle cx="1086.1" cy="1120.3" r="3.2"/><circle cx="1086.1" cy="1131.2" r="3.2"/><circle cx="1086.1" cy="1166.4" r="3.2"/><circle cx="1086.1" cy="1268.1" r="3.2"/><circle cx="1105.1" cy="1178.3" r="3.2"/><circle cx="1105.1" cy="1218.2" r="3.2"/><circle cx="1124.09" cy="1214.4" r="3.2"/><circle cx="1124.09" cy="1239.5" r="3.2"/><circle cx="1143.09" cy="1107.8" r="3.2"/><circle cx="1143.09" cy="1153.9" r="3.2"/><circle cx="1143.09" cy="1167.6" r="3.2"/><circle cx="1143.09" cy="1170.4" r="3.2"/><circle cx="1143.09" cy="1196" r="3.2"/><circle cx="1143.09" cy="1204.3" r="3.2"/><circle cx="1143.09" cy="1226.5" r="3.2"/><circle cx="1143.09" cy="1230.2" r="3.2"/><circle cx="1143.09" cy="1233.1" r="3.2"/><circle cx="1143.09" cy="1327" r="3.2"/><circle cx="1162.08" cy="1146.9" r="3.2"/><circle cx="1162.08" cy="1166.4" r="3.2"/><circle cx="1162.08" cy="1185.3" r="3.2"/><circle cx="1162.08" cy="1215.1" r="3.2"/><circle cx="1181.08" cy="1119.1" r="3.2"/><circle cx="1181.08" cy="1134.2" r="3.2"/><circle cx="1181.08" cy="1145.1" r="3.2"/><circle cx="1181.08" cy="1151" r="3.2"/><circle cx="1181.08" cy="1183" r="3.2"/><circle cx="1181.08" cy="1195.8" r="3.2"/><circle cx="1200.07" cy="1116.5" r="3.2"/><circle cx="1200.07" cy="1167.5" r="3.2"/><circle cx="1200.07" cy="1171.1" r="3.2"/><circle cx="1200.07" cy="1222.1" r="3.2"/><circle cx="1200.07" cy="1230.9" r="3.2"/><circle cx="1200.07" cy="1267.3" r="3.2"/><circle cx="1219.07" cy="1147.9" r="3.2"/><circle cx="1219.07" cy="1161.3" r="3.2"/><circle cx="1219.07" cy="1166.7" r="3.2"/><circle cx="1219.07" cy="1173.7" r="3.2"/><circle cx="1219.07" cy="1189.2" r="3.2"/><circle cx="1219.07" cy="1209.7" r="3.2"/><circle cx="1219.07" cy="1212.4" r="3.2"/><circle cx="1238.06" cy="1099.9" r="3.2"/><circle cx="1238.06" cy="1137.3" r="3.2"/><circle cx="1238.06" cy="1151.3" r="3.2"/><circle cx="1238.06" cy="1159" r="3.2"/><circle cx="1238.06" cy="1166.7" r="3.2"/><circle cx="1238.06" cy="1180.6" r="3.2"/><circle cx="1238.06" cy="1187.6" r="3.2"/><circle cx="1238.06" cy="1200.4" r="3.2"/><circle cx="1238.06" cy="1222.7" r="3.2"/><circle cx="1238.06" cy="1237.1" r="3.2"/><circle cx="1257.06" cy="1145.4" r="3.2"/><circle cx="1257.06" cy="1176" r="3.2"/><circle cx="1257.06" cy="1187.6" r="3.2"/><circle cx="1257.06" cy="1239.4" r="3.2"/><circle cx="1276.05" cy="1080.1" r="3.2"/><circle cx="1276.05" cy="1178.8" r="3.2"/><circle cx="1276.05" cy="1210.8" r="3.2"/><circle cx="1276.05" cy="1254.6" r="3.2"/><circle cx="1295.05" cy="1103.3" r="3.2"/><circle cx="1295.05" cy="1157.8" r="3.2"/><circle cx="1295.05" cy="1197.4" r="3.2"/><circle cx="1314.04" cy="1177.8" r="3.2"/><circle cx="1314.04" cy="1201.7" r="3.2"/><circle cx="1314.04" cy="1248.3" r="3.2"/><circle cx="1352.03" cy="1180" r="3.2"/><circle cx="1352.03" cy="1199.7" r="3.2"/><circle cx="1390.02" cy="1214.5" r="3.2"/><circle cx="1409.02" cy="1237.7" r="3.2"/></g><g stroke="#0d1d3b" stroke-width="6.0" stroke-linecap="round"><line x1="222.4" y1="291" x2="659.4" y2="215"/><line x1="972.2" y1="353.7" x2="1409" y2="293.2"/><line x1="222.4" y1="697.2" x2="659.4" y2="705.7"/><line x1="972.2" y1="805.3" x2="1409" y2="733.2"/><line x1="222.4" y1="1156" x2="659.4" y2="1230"/><line x1="972.2" y1="1185.8" x2="1409" y2="1182.3"/></g><g font-family="Liberation Sans, sans-serif" fill="#000" stroke="#000" stroke-width="0.35"><g transform="translate(149.99 47) scale(1.0231 1)"><text font-size="63">directed exploration</text></g><g transform="translate(906.5 47) scale(1.0167 1)"><text font-size="63">random exploration</text></g><g transform="translate(1.58 66) scale(0.9949 1)"><text font-size="65.5" font-weight="bold">A</text></g><g transform="translate(761.51 66) scale(0.9502 1)"><text font-size="65.5" font-weight="bold">B</text></g><g transform="translate(3.42 544) scale(0.9680 1)"><text font-size="65.5" font-weight="bold">C</text></g><g transform="translate(761.45 544) scale(0.9893 1)"><text font-size="65.5" font-weight="bold">D</text></g><g transform="translate(3.78 1038) scale(0.9084 1)"><text font-size="65.5" font-weight="bold">E</text></g><g transform="translate(761.61 1038) scale(0.9505 1)"><text font-size="65.5" font-weight="bold">F</text></g><g transform="translate(164.55 115) scale(0.9877 1)"><text font-size="36.5">r = 0.32 ; p = 0.004</text></g><g transform="translate(914.65 115) scale(0.9884 1)"><text font-size="36.5">r = 0.2  ; p = 0.06 </text><path d="M117.6 0L117.6 -25.37L115.08 -25.37C114.42 -23.18 112.34 -21.35 108.32 -21.24L108.32 -18.8L114.82 -18.8L114.82 0Z"/><path d="M301.25 0L301.25 -25.37L298.74 -25.37C298.08 -23.18 296 -21.35 291.98 -21.24L291.98 -18.8L298.48 -18.8L298.48 0Z"/></g><g transform="translate(164.64 560) scale(0.9889 1)"><text font-size="36.5">r = -0.03 ; p = 0.764</text></g><g transform="translate(914.25 560) scale(0.9872 1)"><text font-size="36.5">r = 0.24 ; p = 0.027</text></g><g transform="translate(164.63 1038) scale(0.9945 1)"><text font-size="36.5">r = -0.29 ; p = 0.008</text></g><g transform="translate(914.14 1038) scale(0.9889 1)"><text font-size="36.5">r = 0.02 ; p = 0.858</text></g><g transform="translate(293.2 1477) scale(1.0287 1)"><text font-size="45.5"># today items</text></g><g transform="translate(1043.4 1476) scale(1.0276 1)"><text font-size="45.5"># today items</text></g><g transform="translate(135 466) scale(0.9563 1)"><text font-size="43.5">0</text></g><g transform="translate(311.54 466) scale(0.9875 1)"><text font-size="43.5"> 0</text><path d="M15.62 0L15.62 -30.23L12.61 -30.23C11.83 -27.62 9.35 -25.45 4.57 -25.32L4.57 -22.4L12.31 -22.4L12.31 0Z"/></g><g transform="translate(502.05 466) scale(0.9831 1)"><text font-size="43.5">20</text></g><g transform="translate(692.64 466) scale(0.9664 1)"><text font-size="43.5">30</text></g><g transform="translate(135 944) scale(0.9563 1)"><text font-size="43.5">0</text></g><g transform="translate(311.54 944) scale(0.9875 1)"><text font-size="43.5"> 0</text><path d="M15.62 0L15.62 -30.23L12.61 -30.23C11.83 -27.62 9.35 -25.45 4.57 -25.32L4.57 -22.4L12.31 -22.4L12.31 0Z"/></g><g transform="translate(502.05 944) scale(0.9831 1)"><text font-size="43.5">20</text></g><g transform="translate(692.64 944) scale(0.9664 1)"><text font-size="43.5">30</text></g><g transform="translate(135 1421) scale(0.9563 1)"><text font-size="43.5">0</text></g><g transform="translate(311.54 1421) scale(0.9875 1)"><text font-size="43.5"> 0</text><path d="M15.62 0L15.62 -30.23L12.61 -30.23C11.83 -27.62 9.35 -25.45 4.57 -25.32L4.57 -22.4L12.31 -22.4L12.31 0Z"/></g><g transform="translate(502.05 1421) scale(0.9831 1)"><text font-size="43.5">20</text></g><g transform="translate(692.64 1421) scale(0.9664 1)"><text font-size="43.5">30</text></g><g transform="translate(884.8 466) scale(0.9563 1)"><text font-size="43.5">0</text></g><g transform="translate(1061.34 466) scale(0.9875 1)"><text font-size="43.5"> 0</text><path d="M15.62 0L15.62 -30.23L12.61 -30.23C11.83 -27.62 9.35 -25.45 4.57 -25.32L4.57 -22.4L12.31 -22.4L12.31 0Z"/></g><g transform="translate(1251.85 466) scale(0.9831 1)"><text font-size="43.5">20</text></g><g transform="translate(1442.44 466) scale(0.9664 1)"><text font-size="43.5">30</text></g><g transform="translate(884.8 944) scale(0.9563 1)"><text font-size="43.5">0</text></g><g transform="translate(1061.34 944) scale(0.9875 1)"><text font-size="43.5"> 0</text><path d="M15.62 0L15.62 -30.23L12.61 -30.23C11.83 -27.62 9.35 -25.45 4.57 -25.32L4.57 -22.4L12.31 -22.4L12.31 0Z"/></g><g transform="translate(1251.85 944) scale(0.9831 1)"><text font-size="43.5">20</text></g><g transform="translate(1442.44 944) scale(0.9664 1)"><text font-size="43.5">30</text></g><g transform="translate(884.8 1421) scale(0.9563 1)"><text font-size="43.5">0</text></g><g transform="translate(1061.34 1421) scale(0.9875 1)"><text font-size="43.5"> 0</text><path d="M15.62 0L15.62 -30.23L12.61 -30.23C11.83 -27.62 9.35 -25.45 4.57 -25.32L4.57 -22.4L12.31 -22.4L12.31 0Z"/></g><g transform="translate(1251.85 1421) scale(0.9831 1)"><text font-size="43.5">20</text></g><g transform="translate(1442.44 1421) scale(0.9664 1)"><text font-size="43.5">30</text></g><g transform="translate(109.52 428) scale(0.9379 1)"><text font-size="43.5">0</text></g><g transform="translate(74.8 272) scale(0.9590 1)"><text font-size="43.5">0.5</text></g><g transform="translate(107.7 116) scale(1.0951 1)"><path d="M15.62 0L15.62 -30.23L12.61 -30.23C11.83 -27.62 9.35 -25.45 4.57 -25.32L4.57 -22.4L12.31 -22.4L12.31 0Z"/></g><g transform="translate(109.52 906) scale(0.9379 1)"><text font-size="43.5">0</text></g><g transform="translate(74.8 734) scale(0.9590 1)"><text font-size="43.5">0.5</text></g><g transform="translate(107.7 562) scale(1.0951 1)"><path d="M15.62 0L15.62 -30.23L12.61 -30.23C11.83 -27.62 9.35 -25.45 4.57 -25.32L4.57 -22.4L12.31 -22.4L12.31 0Z"/></g><g transform="translate(58.04 1356) scale(0.9995 1)"><text font-size="43.5">-0.5</text></g><g transform="translate(109.52 1218) scale(0.9379 1)"><text font-size="43.5">0</text></g><g transform="translate(74.8 1081) scale(0.9590 1)"><text font-size="43.5">0.5</text></g><g transform="translate(859.33 428) scale(0.9379 1)"><text font-size="43.5">0</text></g><g transform="translate(824.6 272) scale(0.9590 1)"><text font-size="43.5">0.5</text></g><g transform="translate(857.5 116) scale(1.0951 1)"><path d="M15.62 0L15.62 -30.23L12.61 -30.23C11.83 -27.62 9.35 -25.45 4.57 -25.32L4.57 -22.4L12.31 -22.4L12.31 0Z"/></g><g transform="translate(859.33 906) scale(0.9379 1)"><text font-size="43.5">0</text></g><g transform="translate(824.6 734) scale(0.9590 1)"><text font-size="43.5">0.5</text></g><g transform="translate(857.5 562) scale(1.0951 1)"><path d="M15.62 0L15.62 -30.23L12.61 -30.23C11.83 -27.62 9.35 -25.45 4.57 -25.32L4.57 -22.4L12.31 -22.4L12.31 0Z"/></g><g transform="translate(807.84 1356) scale(0.9995 1)"><text font-size="43.5">-0.5</text></g><g transform="translate(859.33 1218) scale(0.9379 1)"><text font-size="43.5">0</text></g><g transform="translate(824.6 1081) scale(0.9590 1)"><text font-size="43.5">0.5</text></g><g transform="translate(58 386.86) rotate(-90) scale(1.0062 1)"><text font-size="45.5">p(high info) h </text><path d="M281.91 0L281.91 -31.62L278.77 -31.62C277.96 -28.89 275.36 -26.62 270.36 -26.48L270.36 -23.43L278.46 -23.43L278.46 0Z"/></g><g transform="translate(807.5 397.25) rotate(-90) scale(1.0007 1)"><text font-size="45.5">p(low mean) h </text><path d="M304.62 0L304.62 -31.62L301.48 -31.62C300.66 -28.89 298.07 -26.62 293.06 -26.48L293.06 -23.43L301.16 -23.43L301.16 0Z"/></g><g transform="translate(57.8 864.67) rotate(-90) scale(1.0091 1)"><text font-size="45.5">p(high info) h6</text></g><g transform="translate(807.6 874.95) rotate(-90) scale(1.0029 1)"><text font-size="45.5">p(low mean) h6</text></g><g transform="translate(41.3 1331.39) rotate(-90) scale(1.0456 1)"><text font-size="45.5">directed exp.</text></g><g transform="translate(790.9 1326.24) rotate(-90) scale(1.0343 1)"><text font-size="45.5">random exp.</text></g></g></svg>
</body></html>
